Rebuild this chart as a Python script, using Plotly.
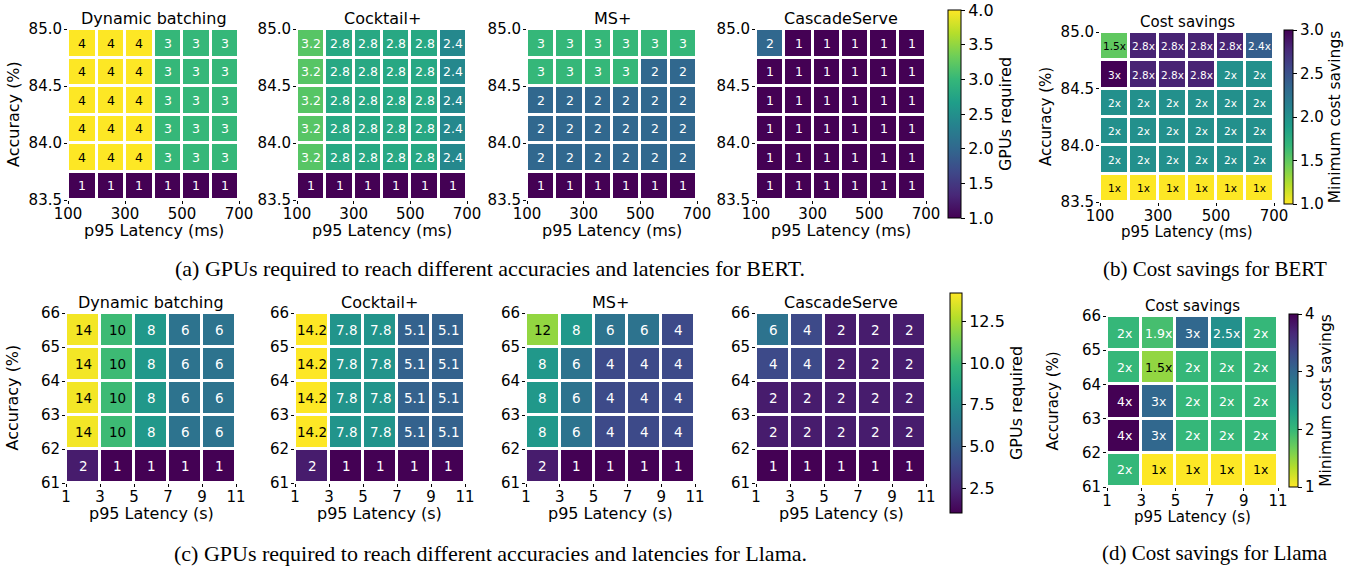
import plotly.graph_objects as go

W, H = 1354, 572

# ---- BERT: latency bins (ms) and accuracy bins (%) -- cell centres ----
bert_latency = [150, 250, 350, 450, 550, 650]
bert_accuracy = [84.875, 84.625, 84.375, 84.125, 83.875, 83.625]  # top row first

bert_dynamic = [
    [4, 4, 4, 3, 3, 3],
    [4, 4, 4, 3, 3, 3],
    [4, 4, 4, 3, 3, 3],
    [4, 4, 4, 3, 3, 3],
    [4, 4, 4, 3, 3, 3],
    [1, 1, 1, 1, 1, 1],
]
bert_cocktail = [
    [3.2, 2.8, 2.8, 2.8, 2.8, 2.4],
    [3.2, 2.8, 2.8, 2.8, 2.8, 2.4],
    [3.2, 2.8, 2.8, 2.8, 2.8, 2.4],
    [3.2, 2.8, 2.8, 2.8, 2.8, 2.4],
    [3.2, 2.8, 2.8, 2.8, 2.8, 2.4],
    [1, 1, 1, 1, 1, 1],
]
bert_msplus = [
    [3, 3, 3, 3, 3, 3],
    [3, 3, 3, 3, 2, 2],
    [2, 2, 2, 2, 2, 2],
    [2, 2, 2, 2, 2, 2],
    [2, 2, 2, 2, 2, 2],
    [1, 1, 1, 1, 1, 1],
]
bert_cascade = [
    [2, 1, 1, 1, 1, 1],
    [1, 1, 1, 1, 1, 1],
    [1, 1, 1, 1, 1, 1],
    [1, 1, 1, 1, 1, 1],
    [1, 1, 1, 1, 1, 1],
    [1, 1, 1, 1, 1, 1],
]
bert_savings = [
    [1.5, 2.8, 2.8, 2.8, 2.8, 2.4],
    [3, 2.8, 2.8, 2.8, 2, 2],
    [2, 2, 2, 2, 2, 2],
    [2, 2, 2, 2, 2, 2],
    [2, 2, 2, 2, 2, 2],
    [1, 1, 1, 1, 1, 1],
]

# ---- Llama: latency bins (s) and accuracy bins (%) -- cell centres ----
llama_latency = [2, 4, 6, 8, 10]
llama_accuracy = [65.5, 64.5, 63.5, 62.5, 61.5]  # top row first

llama_dynamic = [
    [14, 10, 8, 6, 6],
    [14, 10, 8, 6, 6],
    [14, 10, 8, 6, 6],
    [14, 10, 8, 6, 6],
    [2, 1, 1, 1, 1],
]
llama_cocktail = [
    [14.2, 7.8, 7.8, 5.1, 5.1],
    [14.2, 7.8, 7.8, 5.1, 5.1],
    [14.2, 7.8, 7.8, 5.1, 5.1],
    [14.2, 7.8, 7.8, 5.1, 5.1],
    [2, 1, 1, 1, 1],
]
llama_msplus = [
    [12, 8, 6, 6, 4],
    [8, 6, 4, 4, 4],
    [8, 6, 4, 4, 4],
    [8, 6, 4, 4, 4],
    [2, 1, 1, 1, 1],
]
llama_cascade = [
    [6, 4, 2, 2, 2],
    [4, 4, 2, 2, 2],
    [2, 2, 2, 2, 2],
    [2, 2, 2, 2, 2],
    [1, 1, 1, 1, 1],
]
llama_savings = [
    [2, 1.9, 3, 2.5, 2],
    [2, 1.5, 2, 2, 2],
    [4, 3, 2, 2, 2],
    [4, 3, 2, 2, 2],
    [2, 1, 1, 1, 1],
]

bert_xticks = [100, 300, 500, 700]
bert_yticks = [83.5, 84.0, 84.5, 85.0]
llama_xticks = [1, 3, 5, 7, 9, 11]
llama_yticks = [61, 62, 63, 64, 65, 66]

FONT = "DejaVu Sans"


def fx(px):
    return px / W


def fy(py):
    return 1 - py / H


# colour axes: (cmin, cmax, reversed, dark-text threshold)
caxes = {
    "coloraxis": (1, 4, False, 0.8),
    "coloraxis2": (1, 3, True, 0.74),
    "coloraxis3": (1, 14.2, False, 0.6),
    "coloraxis4": (1, 4, True, 0.74),
}

common_bert = dict(x=bert_latency, y=bert_accuracy, xr=[100, 700], yr=[83.5, 85.0],
                   xt=bert_xticks, yt=bert_yticks, yfmt=".1f", xlab="p95 Latency (ms)")
common_llama = dict(x=llama_latency, y=llama_accuracy, xr=[1, 11], yr=[61, 66],
                    xt=llama_xticks, yt=llama_yticks, yfmt="d", xlab="p95 Latency (s)")

panels = [
    dict(title="Dynamic batching", z=bert_dynamic, ca="coloraxis", box=(68, 239, 29, 200), suffix="", cell_font=12.5, ylab=True, **common_bert),
    dict(title="Cocktail+", z=bert_cocktail, ca="coloraxis", box=(297, 467, 29, 200), suffix="", cell_font=12.5, ylab=False, **common_bert),
    dict(title="MS+", z=bert_msplus, ca="coloraxis", box=(527, 697, 29, 200), suffix="", cell_font=12.5, ylab=False, **common_bert),
    dict(title="CascadeServe", z=bert_cascade, ca="coloraxis", box=(756, 926, 29, 200), suffix="", cell_font=12.5, ylab=False, **common_bert),
    dict(title="Cost savings", z=bert_savings, ca="coloraxis2", box=(1100, 1274, 32, 202), suffix="x", cell_font=10.5, ylab=True, small=True, **common_bert),
    dict(title="Dynamic batching", z=llama_dynamic, ca="coloraxis3", box=(66, 236, 313, 483), suffix="", cell_font=13.5, ylab=True, **common_llama),
    dict(title="Cocktail+", z=llama_cocktail, ca="coloraxis3", box=(295, 465, 313, 483), suffix="", cell_font=13.5, ylab=False, **common_llama),
    dict(title="MS+", z=llama_msplus, ca="coloraxis3", box=(526, 695, 313, 483), suffix="", cell_font=13.5, ylab=False, **common_llama),
    dict(title="CascadeServe", z=llama_cascade, ca="coloraxis3", box=(756, 926, 313, 483), suffix="", cell_font=13.5, ylab=False, **common_llama),
    dict(title="Cost savings", z=llama_savings, ca="coloraxis4", box=(1107, 1278, 316, 487), suffix="x", cell_font=12.5, ylab=True, small=True, **common_llama),
]


def fmt(v, suffix):
    s = f"{int(v)}" if float(v).is_integer() else f"{v:.1f}"
    return s + suffix


fig = go.Figure()
layout = {}
annotations = []

for i, p in enumerate(panels, start=1):
    key = "" if i == 1 else str(i)
    xa, ya = "x" + key, "y" + key
    l, r, t, b = p["box"]
    fig.add_trace(go.Heatmap(
        z=p["z"], x=p["x"], y=p["y"], coloraxis=p["ca"],
        xgap=3, ygap=3, xaxis=xa, yaxis=ya, hoverinfo="skip",
    ))
    layout["xaxis" + key] = dict(
        domain=[fx(l), fx(r)], anchor=ya, range=p["xr"], tickvals=p["xt"],
        ticks="outside", ticklen=3, tickcolor="black", showgrid=False, zeroline=False,
        showline=False, automargin=False, ticklabelstandoff=-3,
        tickfont=dict(family=FONT, size=15, color="black"),
    )
    layout["yaxis" + key] = dict(
        domain=[fy(b), fy(t)], anchor=xa, range=p["yr"], tickvals=p["yt"],
        tickformat=p["yfmt"], ticks="outside", ticklen=3, tickcolor="black",
        showgrid=False, zeroline=False, showline=False, automargin=False,
        ticklabelstandoff=-1,
        tickfont=dict(family=FONT, size=15, color="black"),
    )
    cx = (l + r) / 2
    small = p.get("small", False)
    # subplot title
    annotations.append(dict(
        text=p["title"], x=fx(cx), y=fy(t - 10.5), xref="paper", yref="paper",
        xanchor="center", yanchor="middle", showarrow=False,
        font=dict(family=FONT, size=15 if small else 16, color="black"),
    ))
    # x-axis label
    annotations.append(dict(
        text=p["xlab"], x=fx(cx), y=fy(b + 30), xref="paper", yref="paper",
        xanchor="center", yanchor="middle", showarrow=False,
        font=dict(family=FONT, size=15 if small else 16, color="black"),
    ))
    # y-axis label
    if p["ylab"]:
        annotations.append(dict(
            text="Accuracy (%)", x=fx(l - 43), y=fy((t + b) / 2), xref="paper", yref="paper",
            xanchor="right", yanchor="middle", textangle=-90, showarrow=False,
            font=dict(family=FONT, size=15 if small else 16, color="black"),
        ))
    # cell value labels
    cmin, cmax, rev, thr = caxes[p["ca"]]
    for row, yv in zip(p["z"], p["y"]):
        for v, xv in zip(row, p["x"]):
            pos = (v - cmin) / (cmax - cmin)
            if rev:
                pos = 1 - pos
            color = "black" if pos > thr else "white"
            annotations.append(dict(
                text=fmt(v, p["suffix"]), x=xv, y=yv, xref=xa, yref=ya,
                showarrow=False, xanchor="center", yanchor="middle",
                font=dict(family=FONT, size=p["cell_font"], color=color),
            ))


def colorbar(x0, x1, y0, y1, title, tickvals, tickformat, font=16, tfont=16):
    return dict(
        x=fx(x0), xanchor="left", y=fy(y0), yanchor="top",
        len=(y1 - y0) / H, lenmode="fraction", thickness=x1 - x0, thicknessmode="pixels",
        xpad=0, ypad=0, outlinewidth=1, outlinecolor="black",
        ticks="outside", ticklen=4, tickcolor="black", tickvals=tickvals,
        tickformat=tickformat, tickfont=dict(family=FONT, size=font, color="black"),
        title=dict(text=title, side="right", font=dict(family=FONT, size=tfont, color="black")),
    )


layout["coloraxis"] = dict(colorscale="Viridis", cmin=1, cmax=4,
                           colorbar=colorbar(948, 961, 10, 218, "GPUs required",
                                             [1, 1.5, 2, 2.5, 3, 3.5, 4], ".1f"))
layout["coloraxis2"] = dict(colorscale="Viridis", reversescale=True, cmin=1, cmax=3,
                            colorbar=colorbar(1284, 1293, 30, 204, "Minimum cost savings",
                                              [1, 1.5, 2, 2.5, 3], ".1f", 15, 15.5))
layout["coloraxis3"] = dict(colorscale="Viridis", cmin=1, cmax=14.2,
                            colorbar=colorbar(950, 962, 293, 513, "GPUs required",
                                              [2.5, 5, 7.5, 10, 12.5], ".1f"))
layout["coloraxis4"] = dict(colorscale="Viridis", reversescale=True, cmin=1, cmax=4,
                            colorbar=colorbar(1289, 1298, 314, 487, "Minimum cost savings",
                                              [1, 2, 3, 4], "d", 15, 15.5))

captions = [
    ("(a) GPUs required to reach different accuracies and latencies for BERT.", 490, 269, 22),
    ("(b) Cost savings for BERT", 1215, 269, 21),
    ("(c) GPUs required to reach different accuracies and latencies for Llama.", 490, 553, 22),
    ("(d) Cost savings for Llama", 1215, 553, 21),
]
for text, cx, cy, size in captions:
    annotations.append(dict(
        text=text, x=fx(cx), y=fy(cy), xref="paper", yref="paper",
        xanchor="center", yanchor="middle", showarrow=False,
        font=dict(family="Liberation Serif", size=size, color="black"),
    ))

fig.update_layout(
    width=W, height=H, margin=dict(l=0, r=0, t=0, b=0, autoexpand=False),
    paper_bgcolor="white", plot_bgcolor="white", showlegend=False,
    annotations=annotations, **layout,
)
fig.write_html("out.html")
